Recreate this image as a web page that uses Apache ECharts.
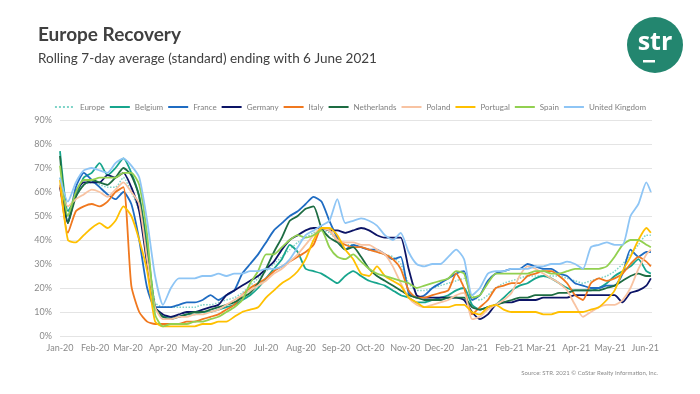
<!DOCTYPE html>
<html><head><meta charset="utf-8">
<script src="https://cdn.jsdelivr.net/npm/echarts@6/dist/echarts.min.js"></script>
<style>html,body{margin:0;padding:0;background:#fff}#c{width:700px;height:394px}</style>
</head><body><div id="c"></div>
<script>
const dates = ['2020-01-01','2020-01-08','2020-01-15','2020-01-22','2020-01-29','2020-02-05','2020-02-12','2020-02-19','2020-02-26','2020-03-04','2020-03-11','2020-03-18','2020-03-25','2020-04-01','2020-04-08','2020-04-15','2020-04-22','2020-04-29','2020-05-06','2020-05-13','2020-05-20','2020-05-27','2020-06-03','2020-06-10','2020-06-17','2020-06-24','2020-07-01','2020-07-08','2020-07-15','2020-07-22','2020-07-29','2020-08-05','2020-08-12','2020-08-19','2020-08-26','2020-09-02','2020-09-09','2020-09-16','2020-09-23','2020-09-30','2020-10-07','2020-10-14','2020-10-21','2020-10-28','2020-11-04','2020-11-11','2020-11-18','2020-11-25','2020-12-02','2020-12-09','2020-12-16','2020-12-23','2020-12-30','2021-01-06','2021-01-13','2021-01-20','2021-01-27','2021-02-03','2021-02-10','2021-02-17','2021-02-24','2021-03-03','2021-03-10','2021-03-17','2021-03-24','2021-03-31','2021-04-07','2021-04-14','2021-04-21','2021-04-28','2021-05-05','2021-05-12','2021-05-19','2021-05-26','2021-06-02','2021-06-06'];

const europe = [66,50,58,63,64,63,62,62,66,60,52,36,14,12,12,12,12,12,13,13,14,15,16,18,21,24,27,30,33,36,39,41,43,44,43,40,38,38,37,36,35,34,33,30,22,19,19,20,21,22,23,24,17,15,17,20,22,23,24,25,25,25,25,25,24,23,22,23,24,25,27,30,34,38,42,42];
const belgium = [77,52,58,66,68,72,67,70,74,68,58,38,12,8,8,8,9,9,10,10,11,12,13,15,17,20,24,28,32,38,35,28,27,26,24,22,25,27,25,23,22,21,19,17,16,14,14,15,16,17,19,20,13,11,12,13,16,19,21,22,24,25,24,22,20,19,19,19,20,22,25,27,29,32,27,26];
const france = [63,48,62,68,65,62,59,57,60,55,40,20,12,12,12,13,14,14,15,17,15,17,19,26,30,34,39,44,47,50,52,55,58,56,48,41,36,38,37,36,36,34,32,33,18,16,17,20,22,24,26,27,15,17,23,26,27,28,28,30,29,28,28,26,25,22,21,20,20,21,21,26,36,33,35,35];
const germany = [62,47,60,64,64,64,67,66,68,62,52,30,12,9,8,9,10,10,11,12,13,17,19,21,23,25,28,31,36,40,42,44,45,45,44,44,43,44,45,44,42,41,41,41,28,17,16,16,16,16,16,15,10,7,9,13,14,14,15,15,15,16,16,16,16,17,17,17,17,17,17,14,18,19,21,24];
const italy = [63,43,52,54,55,54,56,60,62,21,10,6,5,5,5,5,6,6,7,8,9,11,13,17,20,22,24,27,29,31,33,35,38,45,44,40,38,37,37,36,35,34,32,28,19,16,16,17,18,19,26,20,9,12,15,20,21,22,22,25,26,27,27,25,22,17,15,22,24,23,24,26,30,33,31,29];
const netherlands = [75,47,58,63,65,64,63,66,70,67,58,34,12,8,7,8,9,10,10,11,12,13,14,16,18,22,28,35,41,48,50,53,54,45,41,39,36,37,33,28,25,23,21,19,17,16,15,15,15,16,16,16,12,11,12,13,14,15,16,16,17,17,17,18,18,19,19,19,19,20,21,23,25,26,25,25];
const poland = [63,54,57,59,61,60,58,61,64,60,55,32,12,7,7,8,8,9,9,10,11,13,15,17,19,21,23,26,28,31,34,38,42,45,44,40,39,39,38,38,36,34,29,22,16,13,12,13,14,15,17,18,7,8,11,13,15,18,25,29,28,26,24,22,19,13,8,10,12,13,13,15,20,28,34,36];
const portugal = [65,40,39,42,45,47,45,48,54,50,40,27,6,4,4,4,4,4,5,5,6,6,8,10,11,12,16,19,22,24,27,32,40,45,45,42,36,32,26,25,29,25,23,21,16,14,12,12,12,12,13,13,10,9,12,13,11,10,10,10,10,9,9,10,10,10,10,11,12,15,19,27,33,40,45,43];
const spain = [71,50,60,65,65,66,66,66,68,68,63,42,9,4,5,5,5,6,6,7,8,10,12,15,22,27,34,34,37,40,42,41,42,44,37,33,32,34,31,28,26,25,24,23,22,20,21,22,23,24,27,26,16,17,22,26,26,26,26,26,27,27,26,26,27,28,28,28,28,29,33,38,40,40,38,37];
const uk = [66,56,64,69,70,69,68,72,74,71,66,48,25,13,20,24,24,24,25,25,26,25,26,26,27,27,28,28,29,32,37,42,44,46,48,57,47,48,49,48,46,42,40,43,35,30,29,30,30,33,36,32,17,20,26,27,27,28,28,28,29,29,30,30,31,30,28,37,38,39,38,38,50,55,64,60];

const seriesNames = ['Europe','Belgium','France','Germany','Italy','Netherlands','Poland','Portugal','Spain','United Kingdom'];
const seriesValues = [europe,belgium,france,germany,italy,netherlands,poland,portugal,spain,uk];
const seriesColors = ['#7fd4c8','#17a58d','#1f6cc2','#0c1466','#f0781f','#1d6c42','#f8c3a2','#ffc000','#92d050','#8ec5f5'];

const chart = echarts.init(document.getElementById('c'), null, {renderer:'canvas'});
const DAY = 86400000;
const series = seriesNames.map((n, k) => ({
  name: n,
  type: 'line',
  symbol: 'none',
  smooth: 0.2,
  data: dates.map((d, i) => [d, seriesValues[k][i]]),
  lineStyle: {color: seriesColors[k], width: k === 0 ? 1.5 : 1.8, type: k === 0 ? 'dotted' : 'solid'},
  itemStyle: {color: seriesColors[k]}
}));

chart.setOption({
  animation: false,
  grid: {left: 60, right: 48, top: 120, bottom: 58},
  legend: {
    data: seriesNames, top: 98, left: 'center', itemWidth: 20, itemHeight: 10, itemGap: 4,
    itemStyle: {opacity: 0, borderWidth: 0},
    textStyle: {fontSize: 8, color: '#7f7f7f', fontFamily: 'Lato'}
  },
  xAxis: {
    type: 'time', min: '2020-01-01', max: '2021-06-07',
    minInterval: 28 * DAY, maxInterval: 31 * DAY,
    axisLine: {show: false}, axisTick: {show: false}, splitLine: {show: false},
    axisLabel: {formatter: '{MMM}-{yy}', color: '#8a8a8a', fontSize: 9, margin: 8, fontFamily: 'Lato', hideOverlap: false}
  },
  yAxis: {
    type: 'value', min: 0, max: 90, interval: 10,
    axisLine: {show: false}, axisTick: {show: false},
    axisLabel: {formatter: '{value}%', color: '#8a8a8a', fontSize: 9, margin: 8, fontFamily: 'Lato'},
    splitLine: {lineStyle: {color: '#e4e4e4', width: 1}}
  },
  graphic: [
    {type: 'text', left: 38, top: 25, style: {text: 'Europe Recovery', fill: '#404040', font: 'bold 19px Lato'}},
    {type: 'text', left: 38, top: 52, style: {text: 'Rolling 7-day average (standard) ending with 6 June 2021', fill: '#404040', font: '13.5px Lato'}},
    {type: 'circle', shape: {cx: 655, cy: 45, r: 28}, style: {fill: '#23866f'}},
    {type: 'text', x: 655, y: 43, style: {text: 'str', fill: '#ffffff', font: 'bold 25px "Open Sans"', align: 'center', verticalAlign: 'middle'}},
    {type: 'rect', shape: {x: 643, y: 60, width: 12, height: 2.5}, style: {fill: '#ffffff'}},
    {type: 'text', x: 658, y: 373, style: {text: 'Source: STR. 2021 © CoStar Realty Information, Inc.', fill: '#8a8a8a', font: '6px Lato', align: 'right', verticalAlign: 'middle'}}
  ],
  series: series
});
</script>
</body></html>
